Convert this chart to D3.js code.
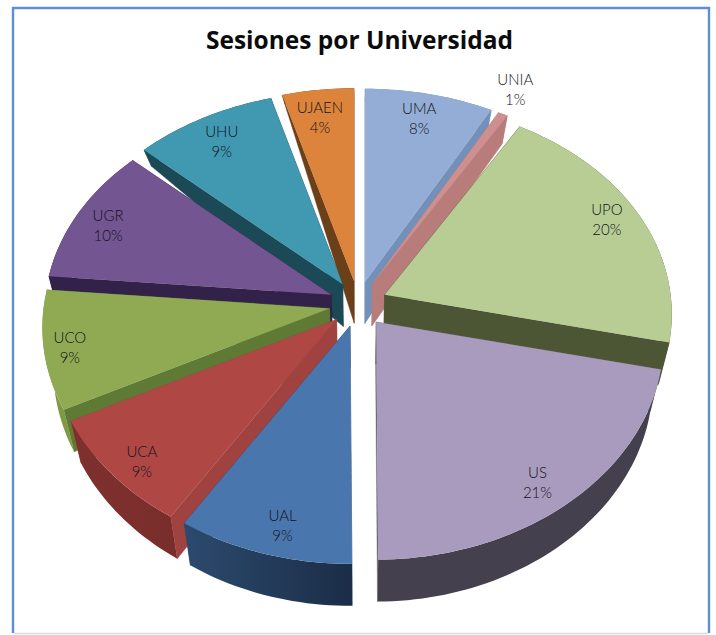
<!DOCTYPE html>
<html><head><meta charset="utf-8">
<script src="https://cdn.jsdelivr.net/npm/d3@7/dist/d3.min.js"></script>
<style>html,body{margin:0;padding:0;background:#fff}svg{display:block}</style>
</head><body><svg id="c" width="716" height="635"></svg>
<script>
const chartTitle = "Sesiones por Universidad";
const categories = ["UMA","UNIA","UPO","US","UAL","UCA","UCO","UGR","UHU","UJAEN"];
const values = [7.9,0.6,20.0,21.4,9.1,8.5,8.9,10.4,8.8,4.4];
const topColors = ["#94ADD6","#CF8F8E","#B7CD94","#A99BBD","#4A76AE","#AF4845","#8FAA52","#735592","#4199B1","#DC843B"];
const faceColors = ["#7390B8","#B87C7B","#4C5534","#6D6A75","#2C4A6E","#A04240","#5F7A35","#32224A","#1B4A56","#6B3F17"];
const rimStart = ["#7390B8","#B87C7B","#4C5534","#45404E","#2C4A6E","#7E302E","#7F9A45","#32224A","#1B4A56","#6B3F17"];
const rimEnd = ["#7390B8","#B87C7B","#4C5534","#45404E","#1B2D47","#7A2E2B","#7F9A45","#32224A","#1B4A56","#6B3F17"];
const paintOrder = ["UJAEN","UHU","UGR","UMA","UNIA","UPO","UCO","UCA","UAL","US"];
const labelRadius = [.867,1.13,.885,.87,.87,.89,.91,.875,.86,.855];
const labelTurn = [-.5,-1,-1,1.9,-1.7,-1.9,-.6,-1.2,-.3,-.8];

const svg = d3.select("#c");
const defs = svg.append("defs");

// frame
svg.append("path").attr("d", d3.line()([[13,633],[13,8],[709,8],[709,633]]))
  .attr("fill","none").attr("stroke","#5F8FD3").attr("stroke-width",2.4);
svg.append("line").attr("x1",14).attr("x2",708).attr("y1",633.5).attr("y2",633.5)
  .attr("stroke","#DADADA").attr("stroke-width",1.5);

svg.append("text").text(chartTitle).attr("x",359.5).attr("y",48.5)
  .attr("text-anchor","middle").attr("font-family","'Open Sans',sans-serif")
  .attr("font-weight",700).attr("font-size",25).attr("fill","#0b0b0b")
  .attr("textLength",307).attr("lengthAdjust","spacingAndGlyphs");

// projection of the tilted pie
const cx = 358, cy = 304, rx = 286, ry = 213, perspX = 0.09, perspY = 0.104, ex = 29, ey = 23;
const pie = d3.pie().sort(null).value(d => d)(values);
const rimAt = a => [
  rx * Math.sin(a) / (1 + perspX * Math.cos(a)),
  -ry * Math.cos(a) / (1 + perspY * Math.cos(a))
];
const depthAt = ([x, y]) => Math.max(6, Math.min(42, -33.2 + .059 * x + .273 * y));
const drop = ([x, y]) => [x - (x - cx) * .035, y + depthAt([x, y])];

const slices = categories.map((name, i) => {
  const p = pie[i], mid = (p.startAngle + p.endAngle) / 2;
  const tip = [cx + ex * Math.sin(mid), cy - ey * Math.cos(mid)];
  const at = (a, r = 1) => { const q = rimAt(a); return [tip[0] + q[0] * r, tip[1] + q[1] * r]; };
  const steps = Math.max(6, Math.ceil((p.endAngle - p.startAngle) * 40));
  const angles = d3.range(steps + 1).map(k => p.startAngle + (p.endAngle - p.startAngle) * k / steps);
  return { name, i, value: values[i], mid, tip, at, angles };
});

const line = d3.line();
const gSl = svg.append("g");
paintOrder.forEach(name => {
  const s = slices.find(d => d.name === name);
  const g = gSl.append("g");
  const rim = s.angles.map(a => s.at(a));
  const a0 = s.angles[0], a1 = s.angles[s.angles.length - 1];
  // radial faces
  [a0, a1].forEach(a => {
    const e = s.at(a);
    g.append("path").attr("d", line([s.tip, e, drop(e), drop(s.tip)]) + "Z")
      .attr("fill", faceColors[s.i]).attr("stroke", faceColors[s.i]).attr("stroke-width", .4);
  });
  // outer wall
  const id = "rim" + s.i;
  const xs = d3.extent(rim, d => d[0]);
  const gr = defs.append("linearGradient").attr("id", id).attr("gradientUnits", "userSpaceOnUse")
    .attr("x1", xs[0]).attr("x2", xs[1]).attr("y1", 0).attr("y2", 0);
  gr.append("stop").attr("offset", 0).attr("stop-color", rimStart[s.i]);
  gr.append("stop").attr("offset", 1).attr("stop-color", rimEnd[s.i]);
  g.append("path").attr("d", line(rim.concat(rim.map(drop).reverse())) + "Z")
    .attr("fill", `url(#${id})`);
  // top
  g.append("path").attr("d", line([s.tip].concat(rim)) + "Z").attr("fill", topColors[s.i]);
});

// labels
const gL = svg.append("g").attr("font-family","Lato,sans-serif").attr("font-weight",300).attr("font-size",15)
  .attr("fill","#12121a").attr("text-anchor","middle");
slices.forEach(s => {
  const [x, y] = s.at(s.mid + labelTurn[s.i] * Math.PI / 180, labelRadius[s.i]);
  gL.append("text").text(s.name).attr("x", x).attr("y", y - 5);
  gL.append("text").text(Math.round(s.value) + "%").attr("x", x).attr("y", y + 15);
});
</script></body></html>
